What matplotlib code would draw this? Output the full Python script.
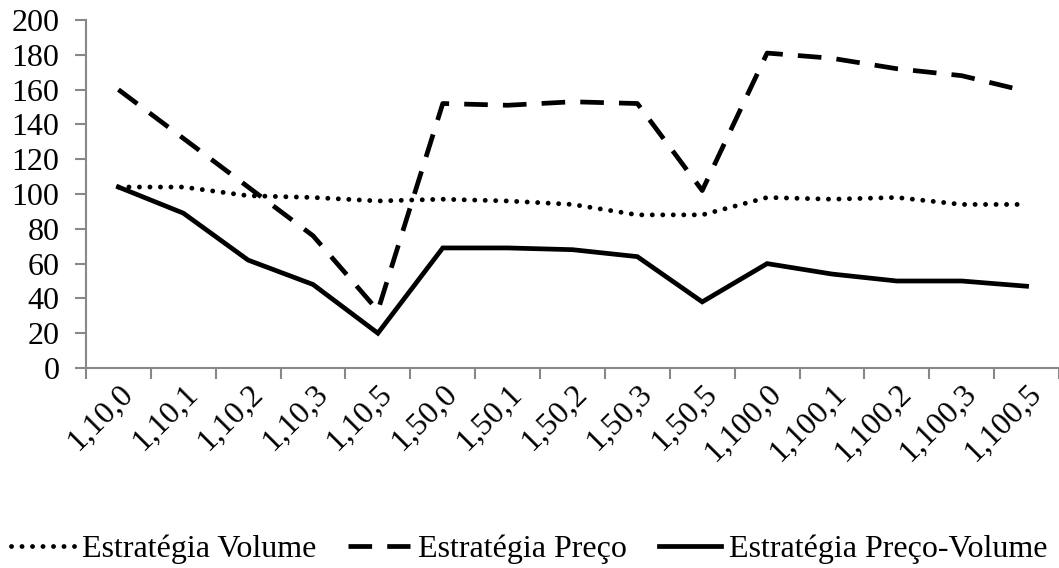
import numpy as np
import matplotlib
matplotlib.use("Agg")
import matplotlib.pyplot as plt

plt.rcParams['font.family'] = ['Liberation Serif', 'DejaVu Serif']

categories = ["1,10,0", "1,10,1", "1,10,2", "1,10,3", "1,10,5",
              "1,50,0", "1,50,1", "1,50,2", "1,50,3", "1,50,5",
              "1,100,0", "1,100,1", "1,100,2", "1,100,3", "1,100,5"]
volume = [104, 104, 99, 98, 96, 97, 96, 94, 88, 88, 98, 97, 98, 94, 94]
preco = [160, 132, 104, 76, 33, 152, 151, 153, 152, 102, 181, 178, 172, 168, 159]
preco_volume = [104, 89, 62, 48, 20, 69, 69, 68, 64, 38, 60, 54, 50, 50, 47]

fig = plt.figure(figsize=(10.59, 5.68), dpi=100)
ax = fig.add_axes([86 / 1059, 1 - 368 / 568, 1 - 86 / 1059, 348 / 568])

x = np.arange(len(categories))
ax.plot(x, volume, color='black', lw=3.5, linestyle=(0, (0.01, 2.15)),
        dash_capstyle='round', label='Estratégia Volume')
ax.plot(x, preco, color='black', lw=3.4, linestyle=(0, (5, 3.2)),
        label='Estratégia Preço')
ax.plot(x, preco_volume, color='black', lw=3.4, solid_joinstyle='miter',
        label='Estratégia Preço-Volume')

ax.set_xlim(-0.5, len(categories) - 0.5)
ax.set_ylim(0, 200)
ax.set_yticks(np.arange(0, 201, 20))
ax.set_xticks(np.arange(-0.5, len(categories), 1), minor=False)
ax.set_xticklabels([])
ax.set_xticks(x, minor=True)
ax.set_xticklabels(categories, minor=True, rotation=45, ha='right',
                   rotation_mode='anchor', fontsize=23)
ax.tick_params(axis='x', which='minor', length=0, pad=8)
ax.tick_params(axis='x', which='major', length=8, width=1.5, color='#888888')
ax.tick_params(axis='y', length=8, width=1.5, color='#888888', labelsize=23, pad=11)

for s in ['top', 'right']:
    ax.spines[s].set_visible(False)
for s in ['left', 'bottom']:
    ax.spines[s].set_color('#888888')
    ax.spines[s].set_linewidth(1.5)

fig.legend(loc='center', bbox_to_anchor=(0.5, 1 - 549 / 568), ncol=3,
           frameon=False, fontsize=23, handlelength=1.95, handletextpad=0.25,
           columnspacing=1.0, borderpad=0, borderaxespad=0)

fig.savefig('out.png', dpi=100)
